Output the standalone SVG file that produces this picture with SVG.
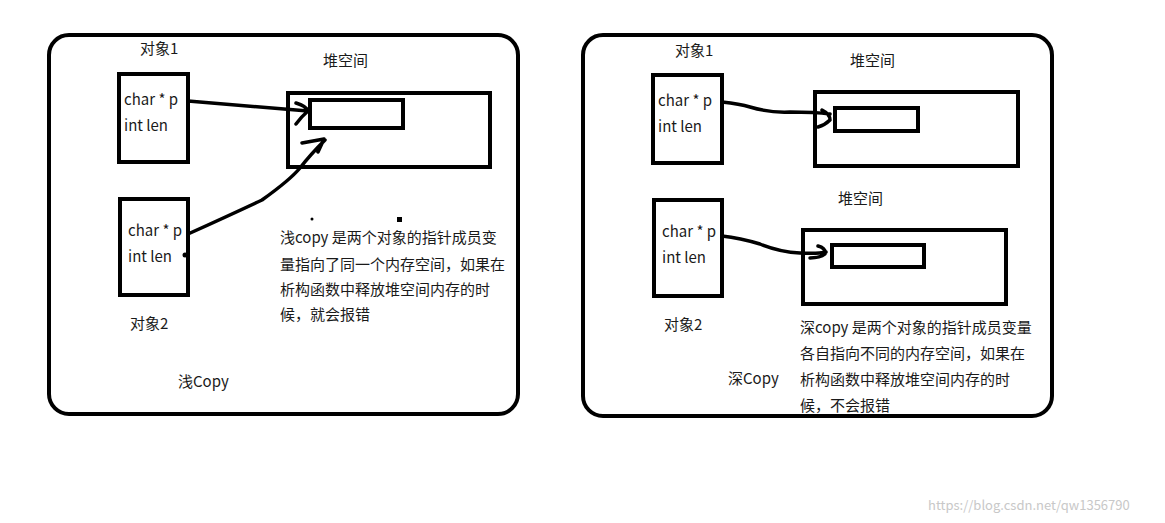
<svg xmlns="http://www.w3.org/2000/svg" width="1165" height="523" viewBox="0 0 1165 523">
<style>
.b{fill:none;stroke:#000;stroke-width:4}
.f{fill:none;stroke:#000;stroke-width:4;rx:20}
.c{fill:none;stroke:#000;stroke-width:3.5;stroke-linecap:round;stroke-linejoin:round}
text{font-family:"Microsoft YaHei","Noto Sans CJK SC",sans-serif;font-size:15px;fill:#1a1a1a}
.w{font-size:13px;fill:#c8c8c8}
</style>
<rect width="1165" height="523" fill="#fff"/>
<g id="frame-shallow"><rect class="f" x="49" y="35" width="469" height="379" rx="20"/><text x="178" y="387">浅Copy</text></g>
<g id="frame-deep"><rect class="f" x="583" y="35" width="469" height="381" rx="20"/><text x="728" y="384">深Copy</text></g>
<g id="s-obj1"><text x="140" y="54">对象1</text><rect class="b" x="119" y="74" width="69" height="88"/><text x="124" y="105">char  * p</text><text x="124" y="131">int len</text></g>
<g id="s-obj2"><text x="130" y="329">对象2</text><rect class="b" x="120" y="199" width="68" height="96"/><text x="128" y="236">char  * p</text><text x="128" y="262">int len</text></g>
<g id="s-heap"><text x="323" y="66">堆空间</text><rect class="b" x="288" y="93" width="202" height="74"/><rect class="b" x="310" y="100" width="93" height="28"/></g>
<g id="s-note"><circle cx="312" cy="219" r="1.5"/><rect x="397" y="217" width="5" height="5"/>
<text x="280" y="243">浅copy 是两个对象的指针成员变</text><text x="280" y="270">量指向了同一个内存空间，如果在</text><text x="280" y="295">析构函数中释放堆空间内存的时</text><text x="280" y="320">候，就会报错</text></g>
<g id="d-obj1"><text x="675" y="56">对象1</text><rect class="b" x="653" y="75" width="69" height="88"/><text x="658" y="106">char  * p</text><text x="658" y="132">int len</text></g>
<g id="d-obj2"><text x="664" y="330">对象2</text><rect class="b" x="654" y="200" width="68" height="96"/><text x="662" y="237">char  * p</text><text x="662" y="263">int len</text></g>
<g id="d-heap1"><text x="850" y="66">堆空间</text><rect class="b" x="815" y="92" width="203" height="74"/><rect class="b" x="835" y="108" width="83" height="23"/></g>
<g id="d-heap2"><text x="838" y="204">堆空间</text><rect class="b" x="803" y="230" width="203" height="74"/><rect class="b" x="832" y="245" width="92" height="22"/></g>
<g id="d-note"><text x="800" y="333">深copy 是两个对象的指针成员变量</text><text x="800" y="359">各自指向不同的内存空间，如果在</text><text x="800" y="385">析构函数中释放堆空间内存的时</text><text x="800" y="411">候，不会报错</text></g>
<g id="connectors">
<path class="c" d="M188 101 L308 111 M296 103 Q306 106 308 111 Q302 116 296 124"/>
<path class="c" d="M188 234 Q230 215 262 200 Q290 180 300 168 Q310 155 325 140 M302 143 L324 139 L318 152"/>
<circle cx="185" cy="255" r="2.5"/>
<path class="c" d="M722 102 Q740 104 750 107 Q770 113 790 112 Q815 112 830 114 M822 110 Q830 114 830 120 Q825 125 818 127"/>
<path class="c" d="M722 236 Q740 238 760 244 Q780 252 800 253 Q818 254 826 252 M818 246 Q826 248 825 254 Q820 258 810 258"/>
</g>
<text class="w" x="928" y="510">https://blog.csdn.net/qw1356790</text>
</svg>
